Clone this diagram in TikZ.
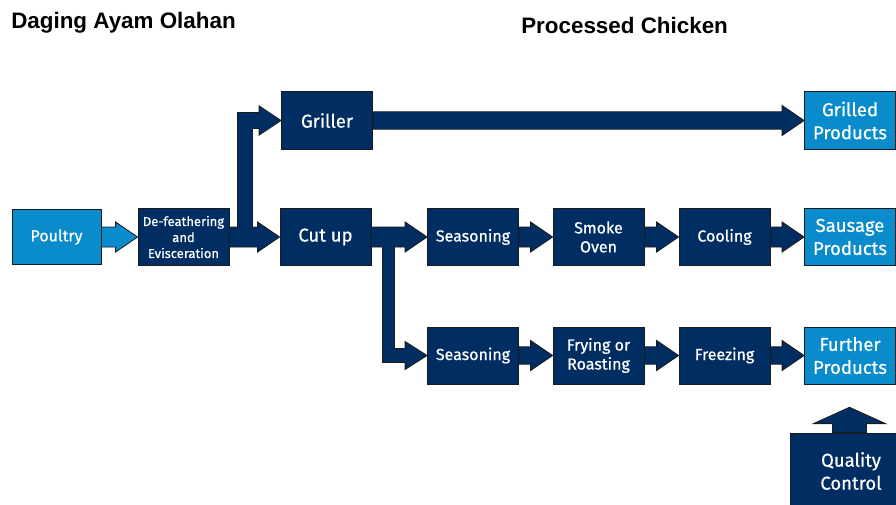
\documentclass[tikz,border=0pt]{standalone}
\usepackage{fontspec}
\setmainfont{Fira Sans}[FakeBold=0.6]
\newfontfamily\titlefont{Liberation Sans}
\usetikzlibrary{calc}
\definecolor{navy}{HTML}{002D62}
\definecolor{lblue}{HTML}{0A8BCB}
\definecolor{edge}{HTML}{1A1A1A}
\tikzset{
  basebox/.style={draw=edge, line width=0.6pt, text=white, align=center, inner sep=0pt,
    minimum width=68.25pt, minimum height=42.75pt},
  dbox/.style={basebox, fill=navy, font=\fontsize{12}{14.25}\selectfont},
  lbox/.style={basebox, fill=lblue, font=\fontsize{13.9}{17.25}\selectfont},
  bigtext/.style={font=\fontsize{13.9}{17.25}\selectfont},
  smalltext/.style={font=\fontsize{9.75}{12}\selectfont},
  barrow/.style={fill=navy, draw=edge, line width=0.6pt, line join=miter},
  larrow/.style={barrow, fill=lblue},
  titletext/.style={anchor=base west, inner sep=0pt, font=\titlefont\bfseries\fontsize{16.8}{20}\selectfont},
}
% horizontal block arrow between two nodes on the same row
\newcommand\harrow[3][barrow]{%
  \draw[#1] let \p1=(#2.east), \p2=(#3.west) in
    (\x1,\y1+7.5pt) -- (\x2-16.5pt,\y1+7.5pt) -- (\x2-16.5pt,\y1+11.25pt) -- (\x2,\y2)
    -- (\x2-16.5pt,\y1-11.25pt) -- (\x2-16.5pt,\y1-7.5pt) -- (\x1,\y1-7.5pt) -- cycle;}
\newcommand\harrowthin[3][barrow]{%
  \draw[#1] let \p1=(#2.east), \p2=(#3.west) in
    (\x1,\y1+6.5pt) -- (\x2-16.5pt,\y1+6.5pt) -- (\x2-16.5pt,\y1+11.25pt) -- (\x2,\y2)
    -- (\x2-16.5pt,\y1-11.25pt) -- (\x2-16.5pt,\y1-6.5pt) -- (\x1,\y1-6.5pt) -- cycle;}
\begin{document}
\begin{tikzpicture}[x=0.75pt,y=-0.75pt]
\useasboundingbox (0,0) rectangle (896,504);

\node[titletext] (t1) at (11,28) {Daging Ayam Olahan};
\node[titletext] (t2) at (521,33) {Processed Chicken};

% row 1
\node[lbox, font=\fontsize{12}{14.25}\selectfont, minimum width=66.75pt, minimum height=41.25pt] (poultry) at (56.5,237) {Poultry};
\node[dbox, smalltext] (def) at (183.5,237) {De-feathering\\and\\Evisceration};
\node[dbox, bigtext] (cutup) at (325.5,237) {Cut up};
\node[dbox] (seas1) at (473,237) {Seasoning};
\node[dbox] (smoke) at (598.5,237) {Smoke\\Oven};
\node[dbox] (cool) at (724.5,237) {Cooling};
\node[lbox] (sausage) at (850,237) {Sausage\\Products};

% top row
\node[dbox, bigtext, minimum height=43.5pt] (griller) at (327,120.5) {Griller};
\node[lbox, minimum height=43.5pt] (grilled) at (850,120.5) {Grilled\\Products};

% bottom row
\node[dbox] (seas2) at (473,355.5) {Seasoning};
\node[dbox] (fry) at (598.5,355.5) {Frying or\\Roasting};
\node[dbox] (freeze) at (724.5,355.5) {Freezing};
\node[lbox] (further) at (850,355.5) {Further\\Products};

% quality control
\node[dbox, bigtext, minimum width=91.5pt, minimum height=57pt] (qc) at (851,471) {Quality\\Control};

% arrows
\harrow[larrow]{poultry}{def}
\harrow{seas1}{smoke}
\harrow{smoke}{cool}
\harrow{cool}{sausage}
\harrowthin{seas2}{fry}
\harrowthin{fry}{freeze}
\harrowthin{freeze}{further}
\harrowthin{griller}{grilled}

% def -> cut up, with branch to griller
\draw[barrow] let \p1=(def.east), \p2=(cutup.west), \p3=(griller.west) in
  (\x1,\y1+7.5pt) -- (\x1+6pt,\y1+7.5pt) -- (\x1+6pt,\y3+6pt) -- (\x3-16.5pt,\y3+6pt)
  -- (\x3-16.5pt,\y3+11pt) -- (\x3,\y3) -- (\x3-16.5pt,\y3-11pt) -- (\x3-16.5pt,\y3-6pt)
  -- (\x1+17.25pt,\y3-6pt) -- (\x1+17.25pt,\y1+7.5pt) -- (\x2-16.5pt,\y1+7.5pt)
  -- (\x2-16.5pt,\y1+11.25pt) -- (\x2,\y2) -- (\x2-16.5pt,\y1-11.25pt)
  -- (\x2-16.5pt,\y1-7.5pt) -- (\x1,\y1-7.5pt) -- cycle;

% cut up -> seasoning, with branch to lower seasoning
\draw[barrow] let \p1=(cutup.east), \p2=(seas1.west), \p3=(seas2.west) in
  (\x1,\y1+7.5pt) -- (\x2-16.5pt,\y1+7.5pt) -- (\x2-16.5pt,\y1+11.25pt) -- (\x2,\y2)
  -- (\x2-16.5pt,\y1-11.25pt) -- (\x2-16.5pt,\y1-7.5pt) -- (\x1+17.25pt,\y1-7.5pt)
  -- (\x1+17.25pt,\y3+5.25pt) -- (\x3-16.5pt,\y3+5.25pt) -- (\x3-16.5pt,\y3+10.5pt)
  -- (\x3,\y3) -- (\x3-16.5pt,\y3-10.5pt) -- (\x3-16.5pt,\y3-5.25pt)
  -- (\x1+8.25pt,\y3-5.25pt) -- (\x1+8.25pt,\y1-7.5pt) -- (\x1,\y1-7.5pt) -- cycle;

% quality control arrow (up)
\draw[barrow] let \p1=($(qc.north)+(-1.5,0)$) in
  (\x1-12.75pt,\y1) -- (\x1-12.75pt,\y1+6.75pt) -- (\x1-27pt,\y1+6.75pt) -- (\x1,\y1+19pt)
  -- (\x1+27pt,\y1+6.75pt) -- (\x1+12.75pt,\y1+6.75pt) -- (\x1+12.75pt,\y1) -- cycle;
\end{tikzpicture}
\end{document}
